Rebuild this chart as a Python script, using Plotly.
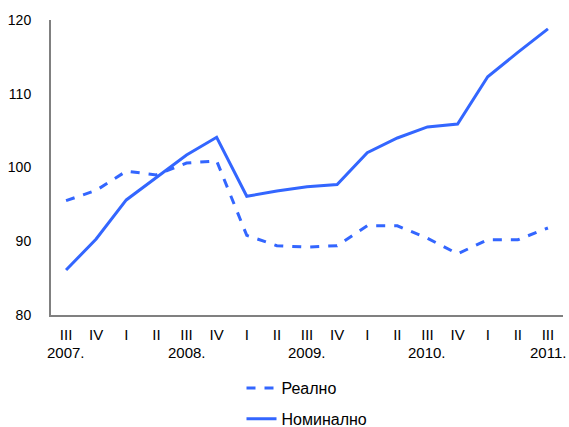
import plotly.graph_objects as go

quarters = ["III", "IV", "I", "II", "III", "IV", "I", "II", "III", "IV",
            "I", "II", "III", "IV", "I", "II", "III"]
years = ["2007.", "", "", "", "2008.", "", "", "", "2009.", "", "", "",
         "2010.", "", "", "", "2011."]
real = [95.5, 96.9, 99.5, 99.0, 100.6, 100.9, 90.8, 89.4, 89.2, 89.4,
        92.1, 92.1, 90.4, 88.3, 90.2, 90.2, 91.8]
nominal = [86.1, 90.3, 95.6, 98.7, 101.7, 104.1, 96.1, 96.8, 97.4, 97.7,
           102.0, 104.0, 105.5, 105.9, 112.3, 115.6, 118.8]

x = list(range(len(quarters)))

color = "#3366FF"
family = "Liberation Sans, Arial, sans-serif"
font = dict(family=family, size=15, color="#000000")

fig = go.Figure()
fig.add_trace(go.Scatter(x=x, y=real, mode="lines", name="Реално",
                         legendgroup="r",
                         line=dict(color=color, width=3, dash="dash")))
fig.add_trace(go.Scatter(x=x, y=nominal, mode="lines", name="Номинално",
                         legendgroup="n",
                         line=dict(color=color, width=3)))

# Year labels under the third quarter of each year
for xi, yr in zip(x, years):
    if yr:
        fig.add_annotation(x=xi, y=0, xref="x", yref="paper", text=yr,
                           showarrow=False, yanchor="middle", yshift=-37,
                           font=font)

fig.update_layout(
    width=569, height=427,
    margin=dict(l=51, r=6, t=20, b=112, autoexpand=False),
    paper_bgcolor="white", plot_bgcolor="white",
    font=font,
    showlegend=True,
    legend=dict(orientation="v", x=0.5, xanchor="center", y=-0.19, yanchor="top",
                traceorder="grouped", tracegroupgap=7,
                font=dict(family=family, size=16, color="#000000")),
    xaxis=dict(tickmode="array", tickvals=x, ticktext=quarters,
               range=[-0.5, len(x) - 0.5], showgrid=False, zeroline=False,
               showline=True, linecolor="#808080", linewidth=2, ticks="",
               ticklabelstandoff=5, tickfont=font, automargin=False),
    yaxis=dict(range=[80, 120], tickvals=[80, 90, 100, 110, 120],
               showgrid=False, zeroline=False, showline=True,
               linecolor="#808080", linewidth=2, ticks="",
               ticklabelstandoff=15, automargin=False,
               tickfont=dict(family=family, size=14, color="#000000")),
)

fig.write_html("out.html")
